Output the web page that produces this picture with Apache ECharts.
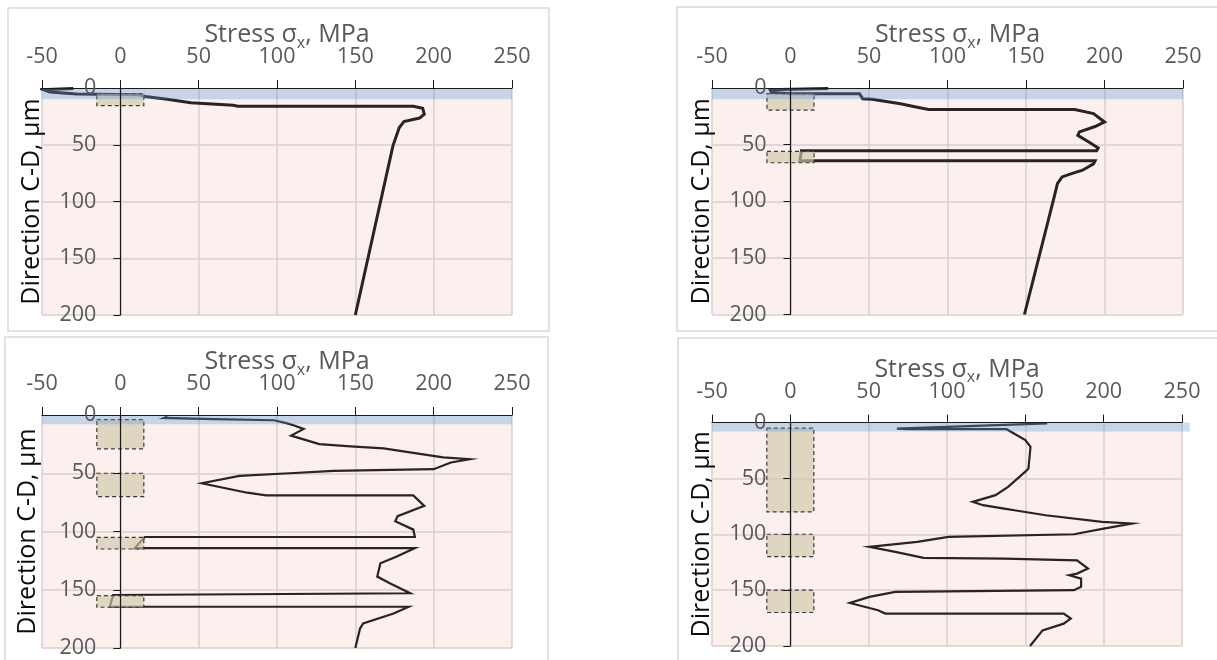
<!DOCTYPE html>
<html>
<head>
<meta charset="utf-8">
<script src="https://cdn.jsdelivr.net/npm/echarts@6.0.0/dist/echarts.min.js"></script>
<style>
  html, body { margin: 0; padding: 0; background: #ffffff; }
  #chart { width: 1217px; height: 660px; }
</style>
</head>
<body>
<div id="chart"></div>
<script>
// ---------- tick labels ----------
const stressTicks = [-50, 0, 50, 100, 150, 200, 250];
const depthTicks = [0, 50, 100, 150, 200];

// ---------- stress profiles [stress MPa, depth µm] ----------
const profileA = [[-30,0.5],[-49,1.5],[-45,3.5],[-28,5.3],[12,6],[16,7.5],[30,10],[45,13],[72,15.3],[75,16],
  [187,16],[193,17.8],[194,23],[191,26.5],[181,29.5],[178,35],[174,51],[150,200]];

const profileB = [[24,0.5],[-13,1.5],[-12,4],[0,5],[44,5],[46,9.5],[52,10],[70,13.9],[80,16.8],[88,19],
  [181,19],[193,22.6],[200,30],[194,34],[184,38.8],[183,41.8],[190,47.6],[196,53],[195,55.3],
  [7,55.3],[6,64.3],[194,64.3],[193,67],[186,72.6],[179,75.6],[173,78.5],[170,84.4],[168,96],[149,200]];

const profileC = [[30,1.5],[28,2.5],[60,3.5],[98,4.5],[106,7],[111,9],[117,12],[109,17.7],[127,25],[147,27],
  [168,28.7],[206,36.4],[223,38],[211,40.8],[200,46.5],[136,48],[108,50],[76,52.3],[52,58.6],[81,66.7],
  [93,69],[187,69],[194,78],[177,86.8],[175.5,91.2],[187,98.4],[188,104.7],[15.6,104.7],[9.2,114.2],
  [188,114.2],[176.5,121.4],[166,127.2],[164,138.7],[172,144.4],[185,153],[185,154.5],[-4.6,154.5],
  [-6.7,164.6],[184,164.6],[174.4,170.4],[155,179],[153,183.3],[150,200]];

const profileD = [[164,0.8],[68,5.5],[75,6],[138,6],[150,15.8],[153.3,21.8],[152,41.2],[150,44],[139,57.6],
  [131,65],[116.4,71],[123,74],[136.5,77],[143,78.5],[163,83],[199,89],[218,90.4],[200,95],[181,100],
  [101,102.4],[81,106.9],[50.5,111.3],[67,115.8],[85,121.2],[136.5,121.8],[183,123.3],[190,130.7],
  [183,135.2],[178,136.7],[185.6,139.7],[185.6,147],[181,150],[67,151.6],[50.5,156],[38,161.5],
  [56,168],[60.6,171],[174.5,171],[179,175.5],[174.5,180],[161,186],[153,200]];

// ---------- coating band and interlayer boxes [x1, y1, x2, y2] ----------
const coatingA = [[-50, 0, 250, 10]];
const layersA  = [[-15, 5, 15, 15.5]];
const coatingB = [[-50, 0, 250, 10]];
const layersB  = [[-15, 5, 15, 19.5], [-15, 56, 15, 66]];
const coatingC = [[-50, 0, 250, 8]];
const layersC  = [[-15, 4, 15, 29], [-15, 50, 15, 70], [-15, 105, 15, 115], [-15, 155, 15, 165]];
const coatingD = [[-50, 0, 255, 8]];
const layersD  = [[-15, 5, 15, 80], [-15, 100, 15, 120], [-15, 150, 15, 170]];

const xTitle = '{t|Stress σ}{s|x}{t|, MPa}';
const yTitle = 'Direction C-D, µm';

// ---------- layout / style ----------
const FONT = '"Open Sans", "Noto Sans", sans-serif';
const panels = [
  { grid: { left: 42,  top: 88,  width: 470, height: 227 }, data: profileA, coat: coatingA, lay: layersA, lw: 3,   yGap: 76 },
  { grid: { left: 712, top: 88,  width: 471, height: 226.5 }, data: profileB, coat: coatingB, lay: layersB, lw: 3, yGap: 76 },
  { grid: { left: 42,  top: 415, width: 470, height: 233 }, data: profileC, coat: coatingC, lay: layersC, lw: 2.2, yGap: 80 },
  { grid: { left: 712, top: 422.5, width: 470, height: 223.5 }, data: profileD, coat: coatingD, lay: layersD, lw: 2.2, yGap: 76 }
];
const frames = [
  { x: 8, y: 8, width: 541, height: 323 },
  { x: 677, y: 7, width: 580, height: 324 },
  { x: 5, y: 337, width: 543, height: 340 },
  { x: 678, y: 338, width: 580, height: 340 }
];

const xMin = stressTicks[0], xMax = stressTicks[stressTicks.length - 1], xInt = stressTicks[1] - stressTicks[0];
const yMin = depthTicks[0], yMax = depthTicks[depthTicks.length - 1], yInt = depthTicks[1] - depthTicks[0];

const gridLine = { color: '#D9CFCE', width: 1.5 };
const axisDark = { color: '#1a1a1a', width: 1.2 };

function rectRenderer(fill, stroke) {
  return function (params, api) {
    const p1 = api.coord([api.value(0), api.value(1)]);
    const p2 = api.coord([api.value(2), api.value(3)]);
    return {
      type: 'rect',
      shape: {
        x: Math.min(p1[0], p2[0]), y: Math.min(p1[1], p2[1]),
        width: Math.abs(p2[0] - p1[0]), height: Math.abs(p2[1] - p1[1])
      },
      style: stroke
        ? { fill: fill, stroke: stroke, lineWidth: 1.2, lineDash: [4, 3] }
        : { fill: fill }
    };
  };
}

const option = {
  animation: false,
  backgroundColor: '#ffffff',
  grid: [], xAxis: [], yAxis: [], series: [],
  graphic: frames.map(f => ({
    type: 'rect', z: -10, shape: f,
    style: { fill: 'none', stroke: '#D9D9D9', lineWidth: 1.5 }
  }))
};

panels.forEach((p, i) => {
  option.grid.push(Object.assign({
    show: true, backgroundColor: '#FBF0EE', borderWidth: 0, z: 0,
    containLabel: false, outerBoundsMode: 'none'
  }, p.grid));
  // offset that puts the depth axis on stress = 0
  const zeroOffset = -p.grid.width * (0 - xMin) / (xMax - xMin);
  // grid-line axes (below data)
  option.xAxis.push({
    gridIndex: i, type: 'value', min: xMin, max: xMax, interval: xInt, position: 'top', z: 1,
    axisLine: { show: false, onZero: false }, axisTick: { show: false }, axisLabel: { show: false },
    splitLine: { show: true, showMinLine: true, showMaxLine: true, lineStyle: gridLine }
  });
  // visible axes (above overlays)
  option.xAxis.push({
    gridIndex: i, type: 'value', min: xMin, max: xMax, interval: xInt, position: 'top', z: 6,
    axisLine: { show: true, onZero: false, lineStyle: axisDark },
    axisTick: { show: true, inside: false, length: 8, lineStyle: { color: '#1a1a1a', width: 1 } },
    axisLabel: { show: true, margin: 20, color: '#595959', fontSize: 21.5, fontFamily: FONT },
    splitLine: { show: false },
    name: xTitle, nameLocation: 'middle', nameGap: 37, nameMoveOverlap: false,
    nameTextStyle: {
      padding: [0, 0, 0, 20],
      rich: {
        t: { fontSize: 25, color: '#595959', fontFamily: FONT, lineHeight: 32, verticalAlign: 'middle' },
        s: { fontSize: 16, color: '#595959', fontFamily: FONT, lineHeight: 16, verticalAlign: 'bottom' }
      }
    }
  });
  option.yAxis.push({
    gridIndex: i, type: 'value', min: yMin, max: yMax, interval: yInt, inverse: true, z: 1, position: 'left',
    axisLine: { show: false, onZero: false }, axisTick: { show: false }, axisLabel: { show: false },
    splitLine: { show: true, showMinLine: false, showMaxLine: true, lineStyle: gridLine }
  });
  option.yAxis.push({
    gridIndex: i, type: 'value', min: yMin, max: yMax, interval: yInt, inverse: true, z: 6, position: 'left',
    offset: zeroOffset,
    axisLine: { show: true, onZero: false, lineStyle: axisDark },
    axisTick: { show: true, inside: false, length: 7, lineStyle: { color: '#1a1a1a', width: 1 } },
    axisLabel: { show: true, margin: 24, color: '#595959', fontSize: 21.5, fontFamily: FONT },
    splitLine: { show: false },
    name: yTitle, nameLocation: 'middle', nameGap: p.yGap, nameMoveOverlap: false,
    nameTextStyle: { fontSize: 25, color: '#0d0d0d', fontFamily: FONT }
  });

  option.series.push({
    type: 'line', xAxisIndex: 2 * i, yAxisIndex: 2 * i, z: 2,
    data: p.data, symbol: 'none', showSymbol: false, smooth: false,
    lineStyle: { color: '#2A2224', width: p.lw, join: 'miter' }
  });
  option.series.push({
    type: 'custom', xAxisIndex: 2 * i, yAxisIndex: 2 * i, z: 3, clip: false,
    encode: { x: [0, 2], y: [1, 3] },
    renderItem: rectRenderer('rgba(208,200,170,0.65)', '#3a3a3a'),
    data: p.lay
  });
  option.series.push({
    type: 'custom', xAxisIndex: 2 * i, yAxisIndex: 2 * i, z: 4, clip: false,
    encode: { x: [0, 2], y: [1, 3] },
    renderItem: rectRenderer('rgba(90,150,215,0.32)', null),
    data: p.coat
  });
});

const chart = echarts.init(document.getElementById('chart'), null, { renderer: 'canvas' });
chart.setOption(option);
</script>
</body>
</html>
